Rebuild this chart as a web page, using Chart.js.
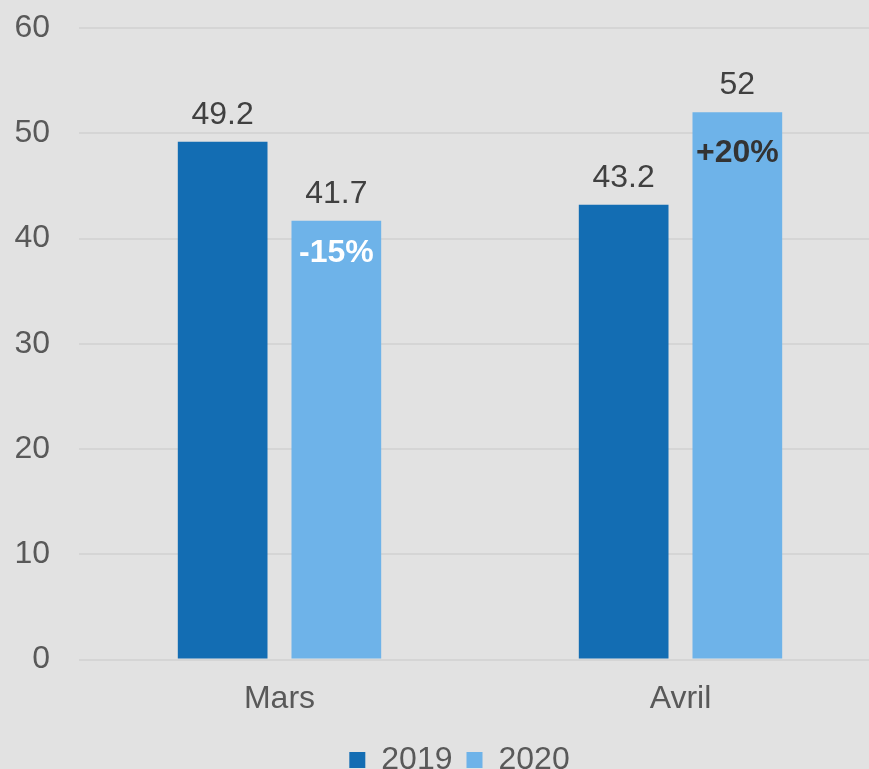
<!DOCTYPE html>
<html>
<head>
<meta charset="utf-8">
<script src="https://cdn.jsdelivr.net/npm/chart.js@4.4.1/dist/chart.umd.min.js"></script>
<style>
  html, body { margin: 0; padding: 0; background: #e2e2e2; overflow: hidden; }
  #wrap { width: 881px; height: 786px; }
</style>
</head>
<body>
<div id="wrap"><canvas id="myChart"></canvas></div>
<script>
// Données
const months = ['Mars', 'Avril'];
const values2019 = [49.2, 43.2];
const values2020 = [41.7, 52];
const changeLabels = ['-15%', '+20%'];
const yTicks = [0, 10, 20, 30, 40, 50, 60];

const darkBlue = '#136db3';
const lightBlue = '#6eb3e9';
const fontFamily = '"Liberation Sans", Arial, sans-serif';

// Étiquettes de valeur au-dessus des barres + variation dans les barres 2020
const barLabels = {
    id: 'barLabels',
    afterLayout(chart, args, opts) {
        // légende un peu décalée vers la droite comme sur l'original
        chart.legend.left += opts.legendShift;
        chart.legend.right += opts.legendShift;
    },
    afterDatasetsDraw(chart, args, opts) {
        const ctx = chart.ctx;
        ctx.save();
        ctx.textAlign = 'center';
        ctx.textBaseline = 'alphabetic';
        chart.data.datasets.forEach((ds, i) => {
            const meta = chart.getDatasetMeta(i);
            meta.data.forEach((bar, j) => {
                ctx.font = '32px ' + fontFamily;
                ctx.fillStyle = '#404040';
                ctx.fillText(String(ds.data[j]), bar.x, bar.y - 18);
            });
        });
        const meta2020 = chart.getDatasetMeta(1);
        meta2020.data.forEach((bar, j) => {
            ctx.font = 'bold 32px ' + fontFamily;
            ctx.fillStyle = opts.changeColors[j];
            ctx.fillText(changeLabels[j], bar.x, bar.y + opts.changeOffsets[j]);
        });
        ctx.restore();
    }
};

const config = {
    type: 'bar',
    data: {
        labels: months,
        datasets: [{
            label: '2019',
            data: values2019,
            backgroundColor: darkBlue,
            borderWidth: 0
        }, {
            label: '2020',
            data: values2020,
            backgroundColor: lightBlue,
            borderWidth: 0
        }]
    },
    options: {
        responsive: true,
        maintainAspectRatio: false,
        animation: false,
        layout: {
            padding: { left: 14, right: 0, top: 28, bottom: 0 }
        },
        datasets: {
            bar: {
                categoryPercentage: 0.567,
                barPercentage: 0.789
            }
        },
        scales: {
            x: {
                grid: { display: false },
                border: { display: false },
                ticks: {
                    color: '#595959',
                    font: { family: fontFamily, size: 32 },
                    padding: 12
                }
            },
            y: {
                min: yTicks[0],
                max: yTicks[yTicks.length - 1],
                afterBuildTicks: (axis) => {
                    axis.ticks = yTicks.map(v => ({ value: v }));
                },
                afterFit: (axis) => {
                    axis.width = 65;
                    axis.paddingTop = 0;
                },
                grid: {
                    color: '#d5d5d5',
                    lineWidth: 2,
                    drawTicks: false
                },
                border: { display: false },
                ticks: {
                    color: '#595959',
                    font: { family: fontFamily, size: 32 },
                    padding: 29
                }
            }
        },
        plugins: {
            legend: {
                position: 'bottom',
                labels: {
                    boxWidth: 16,
                    boxHeight: 16,
                    padding: 14,
                    color: '#595959',
                    font: { family: fontFamily, size: 32 }
                }
            },
            tooltip: { enabled: false },
            barLabels: {
                changeColors: ['#ffffff', '#333333'],
                changeOffsets: [41, 50],
                legendShift: 12
            }
        }
    },
    plugins: [barLabels]
};

let myChart = new Chart(document.getElementById('myChart'), config);
</script>
</body>
</html>
